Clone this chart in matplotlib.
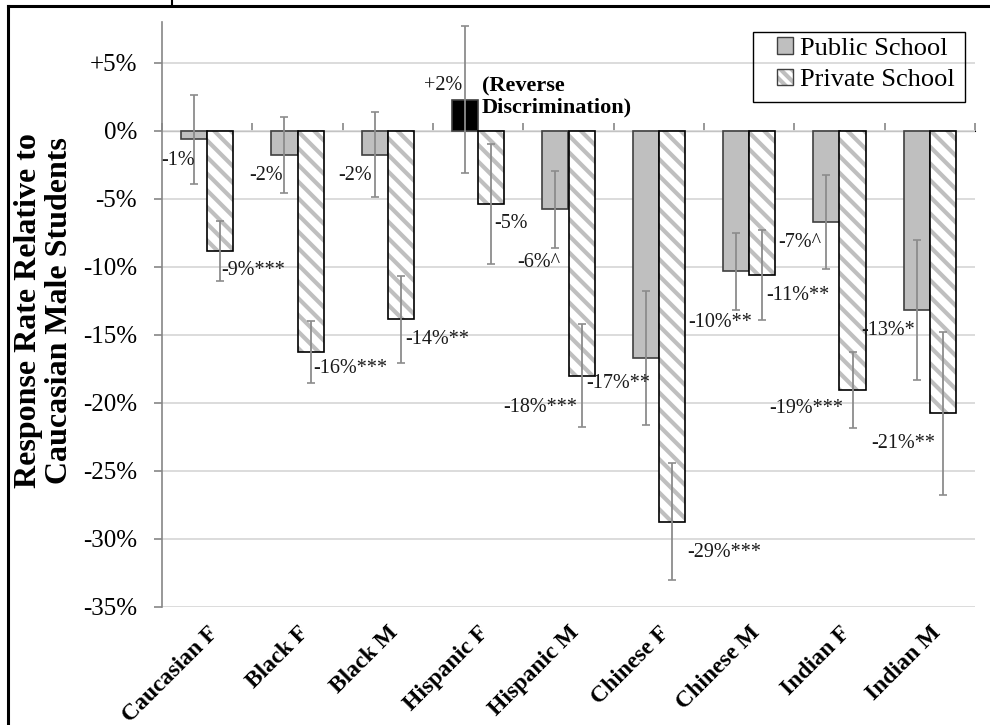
import matplotlib
matplotlib.use("Agg")
import matplotlib.pyplot as plt
import numpy as np
from matplotlib.patches import Patch, Rectangle
from matplotlib.lines import Line2D
from matplotlib.legend_handler import HandlerTuple

plt.rcParams['font.family'] = ['Liberation Serif', 'DejaVu Serif']
plt.rcParams['hatch.linewidth'] = 3.0

# ---------------- data ----------------
categories = ["Caucasian F", "Black F", "Black M", "Hispanic F", "Hispanic M",
              "Chinese F", "Chinese M", "Indian F", "Indian M"]
public_vals = [-0.63, -1.79, -1.74, 2.30, -5.76, -16.69, -10.32, -6.71, -13.16]
public_err = [3.25, 2.78, 3.15, 5.40, 2.82, 4.93, 2.83, 3.45, 5.13]
private_vals = [-8.82, -16.25, -13.85, -5.39, -17.99, -28.72, -10.61, -19.07, -20.76]
private_err = [2.20, 2.28, 3.20, 4.40, 3.76, 4.30, 3.30, 2.80, 5.98]
public_labels = ["-1%", "-2%", "-2%", "+2%", "-6%^", "-17%**", "-10%**", "-7%^", "-13%*"]
private_labels = ["-9%***", "-16%***", "-14%**", "-5%", "-18%***", "-29%***",
                  "-11%**", "-19%***", "-21%**"]
ytick_vals = [5, 0, -5, -10, -15, -20, -25, -30, -35]
ytick_labels = ["+5%", "0%", "-5%", "-10%", "-15%", "-20%", "-25%", "-30%", "-35%"]
series_names = ["Public School", "Private School"]
annotation_text = "(Reverse\nDiscrimination)"
ylabel_text = "Response Rate Relative to\nCaucasian Male Students"

# ---------------- layout (label offsets relative to bar end) ----------------
public_label_offsets = [(-0.173, -1.52), (-0.199, -1.47), (-0.219, -1.52), (-0.245, 1.06),
                        (-0.188, -3.89), (-0.302, -1.86), (-0.179, -3.75), (-0.293, -1.47),
                        (-0.313, -1.49)]
private_label_offsets = [(0.369, -1.42), (0.437, -1.20), (0.406, -1.47), (0.214, -1.40),
                         (-0.459, -2.31), (0.583, -2.26), (0.397, -1.47), (-0.509, -1.32),
                         (-0.435, -2.20)]

W, H = 990, 725
fig = plt.figure(figsize=(W / 100, H / 100), dpi=100)
ax = fig.add_axes([162 / W, 1 - 607 / H, (975 - 162) / W, (607 - 22) / H])

n = len(categories)
x = np.arange(n)
w = 0.288
gray_fill = '#bfbfbf'
err_color = '#8c8c8c'

pub_colors = [('black' if v > 0 else gray_fill) for v in public_vals]
ax.bar(x - w / 2, public_vals, w, color=pub_colors, edgecolor='#404040', linewidth=1.2, zorder=3)
# private: hatched fill, then outline
ax.bar(x + w / 2, private_vals, w, color='white', edgecolor=gray_fill, linewidth=0,
       hatch='\\\\', zorder=3)
ax.bar(x + w / 2, private_vals, w, fill=False, edgecolor='black', linewidth=1.2, zorder=3.1)

ax.errorbar(x - w / 2, public_vals, yerr=public_err, fmt='none', ecolor=err_color,
            elinewidth=1.3, capsize=3, capthick=1.2, zorder=4)
ax.errorbar(x + w / 2, private_vals, yerr=private_err, fmt='none', ecolor=err_color,
            elinewidth=1.3, capsize=3, capthick=1.2, zorder=4)

lab_fs = 14.5
lab_color = '#1a1a1a'
for i in range(n):
    dx, dy = public_label_offsets[i]
    ax.text(x[i] - w / 2 + dx, public_vals[i] + dy, public_labels[i], ha='center', va='center',
            fontsize=lab_fs, color=lab_color, zorder=5)
    dx, dy = private_label_offsets[i]
    ax.text(x[i] + w / 2 + dx, private_vals[i] + dy, private_labels[i], ha='center', va='center',
            fontsize=lab_fs, color=lab_color, zorder=5)

# reverse discrimination annotation (next to the Hispanic F public bar)
k = categories.index("Hispanic F")
ax.text(x[k] + 0.043, public_vals[k] + 0.21, annotation_text, ha='left', va='center',
        fontsize=16, fontweight='bold', linespacing=1.05, zorder=5)

ax.set_xlim(-0.5, n - 0.5)
ax.set_ylim(-35, 8)
ax.set_yticks(ytick_vals)
ax.set_yticklabels(ytick_labels, fontsize=18)
ax.tick_params(axis='y', length=6, width=1.2, color='#868686', pad=12)
ax.set_xticks(x)
ax.set_xticklabels(categories, rotation=45, ha='right', rotation_mode='anchor',
                   fontsize=17, fontweight='bold')
ax.tick_params(axis='x', length=0, pad=11)

ax.yaxis.grid(True, color='#d9d9d9', linewidth=1.3)
ax.set_axisbelow(True)
for s in ['top', 'right', 'bottom']:
    ax.spines[s].set_visible(False)
ax.spines['left'].set_color('#868686')
ax.spines['left'].set_linewidth(1.2)

# zero axis line with category boundary ticks
sec = ax.secondary_xaxis(35 / 43)
sec.set_xticks(np.arange(n + 1) - 0.5)
sec.set_xticklabels([])
sec.tick_params(axis='x', direction='out', length=6, width=1.2, color='#868686')
sec.spines['bottom'].set_color('#868686')
sec.spines['bottom'].set_linewidth(1.3)
sec.spines['bottom'].set_zorder(4.5)

# legend (frame drawn separately)
h_pub = Patch(facecolor=gray_fill, edgecolor='#404040', linewidth=1.0)
h_priv_hatch = Patch(facecolor='white', edgecolor=gray_fill, linewidth=0, hatch='\\\\\\')
h_priv_edge = Patch(fill=False, edgecolor='#404040', linewidth=1.0)
leg = fig.legend([h_pub, (h_priv_hatch, h_priv_edge)], series_names,
                 handler_map={tuple: HandlerTuple(ndivide=1)},
                 loc='upper left', bbox_to_anchor=(772 / W, 1 - 32 / H),
                 fontsize=19, frameon=False, borderpad=0.2, handlelength=0.6,
                 handleheight=0.6, handletextpad=0.25, labelspacing=0.33, borderaxespad=0)
fig.add_artist(Rectangle((753 / W, 1 - 102 / H), (965 - 753) / W, 70 / H, fill=False,
                         edgecolor='black', linewidth=1.0, transform=fig.transFigure))

fig.text(44 / W, 1 - 311 / H, ylabel_text, rotation=90, ha='center', va='center',
         multialignment='center', fontsize=23, fontweight='bold', linespacing=1.05)

# outer frame lines (page border)
fig.add_artist(Line2D([8 / W, 8 / W], [0, 1 - 6 / H], color='black', linewidth=2.2,
                      transform=fig.transFigure))
fig.add_artist(Line2D([8 / W, 1], [1 - 6 / H, 1 - 6 / H], color='black', linewidth=2.2,
                      transform=fig.transFigure))
fig.add_artist(Line2D([172 / W, 172 / W], [1 - 6 / H, 1], color='black', linewidth=1.5,
                      transform=fig.transFigure))

fig.savefig('out.png', dpi=100)
